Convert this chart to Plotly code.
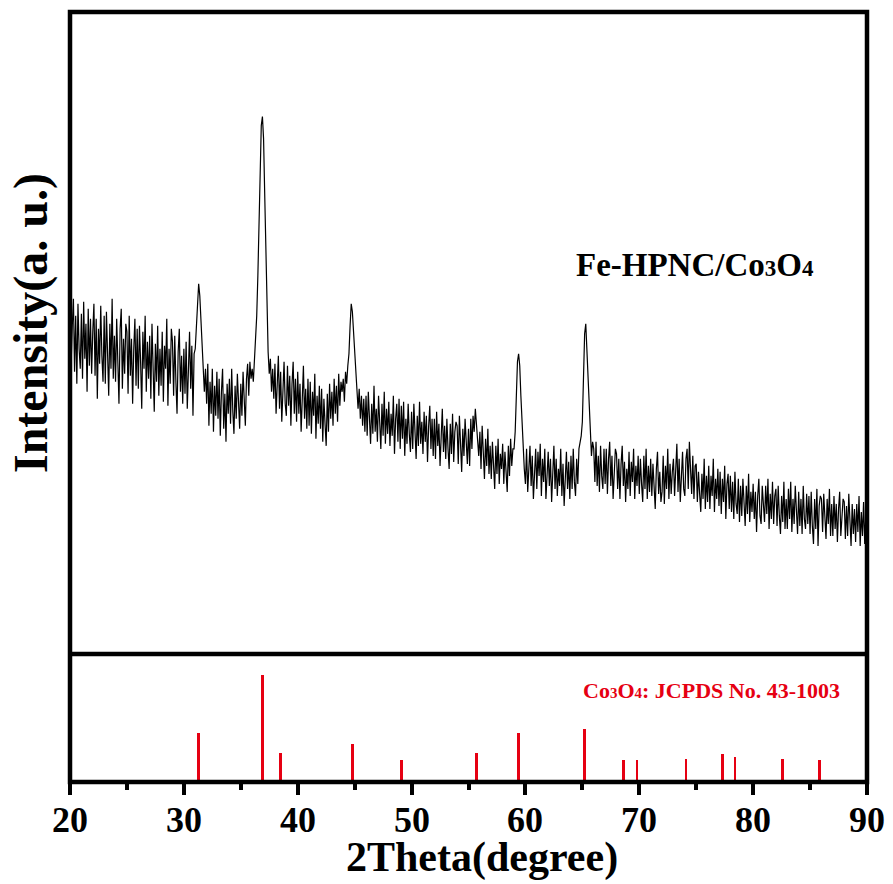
import plotly.graph_objects as go

# ---------------- data ----------------
two_theta_start = 20.0
two_theta_step = 0.1
# measured intensity (a.u.), 20.0 .. 90.0 deg, 0.1 deg step (rows = one degree)
intensity = [
    345, 290, 328, 355, 282, 338, 270, 350, 305, 285,
    340, 275, 352, 295, 330, 262, 345, 288, 335, 280,
    322, 350, 278, 335, 255, 325, 290, 348, 298, 272,
    338, 270, 342, 292, 258, 330, 285, 355, 275, 318,
    272, 335, 290, 250, 325, 345, 265, 315, 280, 330,
    322, 260, 338, 278, 315, 250, 305, 335, 268, 325,
    265, 328, 292, 245, 322, 285, 338, 262, 312, 275,
    318, 255, 330, 282, 242, 310, 272, 328, 258, 305,
    268, 322, 252, 308, 285, 335, 248, 305, 270, 325,
    312, 258, 318, 272, 240, 302, 325, 262, 298, 250,
    305, 260, 312, 245, 295, 322, 265, 308, 238, 300,
    305, 325, 352, 370, 358, 335, 310, 292, 262, 285,
    250, 290, 228, 272, 240, 285, 222, 268, 238, 282,
    235, 275, 218, 262, 285, 225, 260, 212, 270, 240,
    275, 230, 285, 242, 220, 268, 235, 280, 248, 225,
    270, 238, 282, 250, 228, 275, 290, 258, 292, 275,
    285, 272, 292, 305, 338, 378, 425, 482, 528, 537,
    515, 460, 395, 335, 302, 280, 295, 262, 285, 255,
    290, 240, 275, 298, 245, 282, 232, 270, 292, 250,
    238, 288, 248, 278, 228, 270, 292, 240, 275, 232,
    282, 240, 270, 222, 262, 288, 235, 265, 225, 275,
    228, 272, 220, 262, 238, 280, 215, 258, 230, 268,
    225, 265, 212, 255, 230, 208, 260, 222, 270, 235,
    262, 228, 275, 240, 268, 232, 280, 248, 272, 262,
    275, 252, 282, 270, 288, 300, 328, 350, 342, 322,
    305, 282, 268, 245, 265, 235, 258, 228, 255, 222,
    258, 218, 262, 225, 210, 250, 220, 268, 222, 245,
    212, 258, 225, 205, 250, 218, 262, 210, 245, 220,
    252, 208, 240, 218, 258, 200, 235, 250, 212, 255,
    205, 248, 215, 252, 198, 235, 210, 250, 220, 202,
    242, 205, 250, 215, 195, 238, 208, 252, 210, 232,
    200, 242, 212, 238, 192, 228, 248, 205, 235, 198,
    235, 195, 242, 208, 230, 188, 225, 245, 202, 228,
    195, 235, 205, 185, 230, 200, 240, 192, 222, 232,
    228, 190, 238, 202, 182, 225, 198, 235, 205, 190,
    225, 188, 235, 205, 238, 222, 245, 228, 210, 198,
    222, 185, 228, 195, 175, 215, 188, 225, 180, 208,
    175, 212, 188, 165, 208, 180, 215, 170, 200, 185,
    210, 170, 202, 182, 162, 208, 178, 215, 188, 205,
    205, 222, 258, 292, 300, 288, 258, 228, 208, 185,
    170, 205, 162, 192, 208, 168, 198, 155, 188, 205,
    165, 202, 178, 210, 158, 195, 172, 205, 155, 190,
    202, 168, 195, 152, 188, 208, 165, 195, 158, 185,
    168, 205, 158, 190, 148, 182, 202, 165, 192, 155,
    198, 165, 205, 172, 158, 195, 170, 205, 210, 218,
    232, 268, 320, 330, 302, 265, 238, 215, 198, 212,
    205, 172, 212, 168, 198, 162, 208, 178, 165, 205,
    170, 205, 160, 195, 212, 168, 198, 155, 190, 205,
    200, 165, 195, 155, 190, 208, 168, 192, 152, 185,
    165, 202, 158, 192, 172, 205, 155, 188, 168, 198,
    160, 195, 170, 152, 198, 165, 205, 155, 188, 162,
    195, 158, 190, 165, 145, 185, 202, 160, 182, 152,
    162, 198, 150, 188, 165, 205, 155, 190, 160, 182,
    195, 158, 185, 210, 162, 195, 152, 182, 202, 165,
    158, 195, 205, 165, 212, 185, 160, 198, 155, 188,
    190, 152, 182, 160, 142, 180, 155, 195, 145, 178,
    152, 188, 145, 178, 158, 195, 142, 175, 155, 185,
    148, 182, 140, 175, 152, 188, 135, 170, 180, 145,
    178, 142, 172, 135, 182, 150, 140, 175, 132, 168,
    138, 175, 145, 128, 168, 140, 180, 132, 162, 142,
    170, 135, 162, 122, 158, 175, 138, 130, 168, 145,
    132, 168, 140, 175, 125, 160, 135, 172, 130, 158,
    165, 128, 168, 138, 120, 158, 132, 172, 125, 155,
    125, 165, 135, 172, 122, 155, 130, 168, 140, 120,
    162, 128, 155, 120, 168, 135, 125, 160, 130, 158,
    120, 162, 128, 110, 155, 125, 165, 108, 148, 158,
    155, 122, 160, 128, 115, 155, 130, 165, 118, 150,
    118, 158, 125, 150, 112, 145, 162, 118, 135, 155,
    152, 115, 148, 118, 160, 125, 108, 150, 120, 145,
    112, 150, 122, 158, 108, 142, 118, 152, 110, 140,
    130,
]
two_theta = [round(two_theta_start + i * two_theta_step, 2) for i in range(len(intensity))]

# Co3O4 reference pattern, JCPDS No. 43-1003
ref_two_theta = [31.3, 36.9, 38.5, 44.8, 49.1, 55.7, 59.4, 65.2, 68.6, 69.8, 74.1, 77.3, 78.4, 82.6, 85.8]
ref_intensity = [46, 100, 27, 36, 21, 27, 46, 50, 21, 21, 22, 26, 23, 22, 21]

x_ticks = [20, 30, 40, 50, 60, 70, 80, 90]
x_tick_labels = ["20", "30", "40", "50", "60", "70", "80", "90"]
sample_label = "Fe-HPNC/Co<span style='font-size:23px'>3</span>O<span style='font-size:23px'>4</span>"
ref_label = "Co<span style='font-size:15px'>3</span>O<span style='font-size:15px'>4</span>: JCPDS No. 43-1003"

# ---------------- figure ----------------
FONT = "Liberation Serif, Times New Roman, serif"
RED = "#e60012"
split = 0.1662
W, H = 893, 884
ML, MR, MT, MB = 70, 26, 12, 102
ph = H - MT - MB
pw = W - ML - MR


def py(pix):
    """paper y from a pixel row"""
    return (H - MB - pix) / ph


def px(pix):
    """paper x from a pixel column"""
    return (pix - ML) / pw


fig = go.Figure()
fig.add_trace(go.Scatter(x=two_theta, y=intensity, mode="lines",
                         line=dict(color="black", width=1.2), xaxis="x2", yaxis="y2",
                         showlegend=False, hoverinfo="skip"))
fig.add_trace(go.Bar(x=ref_two_theta, y=ref_intensity, width=0.25,
                     marker=dict(color=RED, line=dict(width=0)),
                     xaxis="x", yaxis="y", showlegend=False))

annotations = [
    dict(text=lab, x=v, xref="x", yref="paper", y=py(820), showarrow=False,
         xanchor="center", yanchor="middle",
         font=dict(family=FONT, size=36, color="black", weight="bold"))
    for v, lab in zip(x_ticks, x_tick_labels)
]
annotations += [
    dict(text="2Theta(degree)", xref="paper", yref="paper", x=px(482), y=py(857),
         showarrow=False, xanchor="center", yanchor="middle",
         font=dict(family=FONT, size=42, color="black", weight="bold")),
    dict(text="Intensity(a. u.)", xref="paper", yref="paper", x=px(31), y=py(323),
         showarrow=False, xanchor="center", yanchor="middle", textangle=-90,
         font=dict(family=FONT, size=48, color="black", weight="bold")),
    dict(text=sample_label, xref="paper", yref="paper", x=px(695), y=py(265),
         showarrow=False, xanchor="center", yanchor="middle",
         font=dict(family=FONT, size=33, color="black", weight="bold")),
    dict(text=ref_label, xref="paper", yref="paper", x=px(711), y=py(690),
         showarrow=False, xanchor="center", yanchor="middle",
         font=dict(family=FONT, size=22, color=RED, weight="bold")),
]

fig.update_layout(
    width=W, height=H,
    margin=dict(l=ML, r=MR, t=MT, b=MB),
    paper_bgcolor="white", plot_bgcolor="white",
    bargap=0,
    xaxis=dict(range=[20, 90], tickvals=x_ticks, showticklabels=False, ticks="outside", ticklen=12,
               tickwidth=4, tickcolor="black", showline=False, showgrid=False, zeroline=False,
               minor=dict(dtick=5, tick0=20, ticks="outside", ticklen=7, tickwidth=4, tickcolor="black"),
               anchor="y", domain=[0, 1]),
    yaxis=dict(domain=[0, split], range=[0, 120], showticklabels=False, ticks="",
               showgrid=False, zeroline=False, showline=False),
    xaxis2=dict(range=[20, 90], matches="x", showticklabels=False, ticks="", showgrid=False,
                zeroline=False, showline=False, anchor="y2"),
    yaxis2=dict(domain=[split, 1], range=[0, 641.5], showticklabels=False, ticks="",
                showgrid=False, zeroline=False, showline=False, anchor="x2"),
    shapes=[
        dict(type="rect", xref="paper", yref="paper", x0=0, x1=1, y0=0, y1=1,
             line=dict(color="black", width=4.5), layer="above"),
        dict(type="line", xref="paper", yref="paper", x0=0, x1=1, y0=split, y1=split,
             line=dict(color="black", width=4.5), layer="above"),
    ],
    annotations=annotations,
)

fig.write_html("out.html")
